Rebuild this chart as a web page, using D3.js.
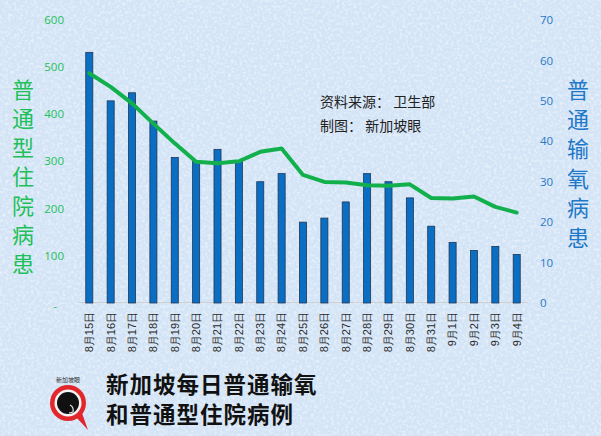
<!DOCTYPE html>
<html><head><meta charset="utf-8">
<script src="https://cdn.jsdelivr.net/npm/d3@7"></script>
<style>
html,body{margin:0;padding:0;background:#d8e7f6;}
svg{display:block;font-family:"Noto Sans CJK SC","Noto Sans",sans-serif;}
</style></head><body>
<svg id="c" width="601" height="436"></svg>
<script>
const categories = ["8月15日","8月16日","8月17日","8月18日","8月19日","8月20日","8月21日","8月22日","8月23日","8月24日","8月25日","8月26日","8月27日","8月28日","8月29日","8月30日","8月31日","9月1日","9月2日","9月3日","9月4日"];
const oxygenCases = [62,50,52,45,36,35,38,35,30,32,20,21,25,32,30,26,19,15,13,14,12];
const generalCases = [487,458,423,380,338,299,296,300,320,327,271,256,255,249,248,251,222,221,225,203,191];
const leftTicks = [0,100,200,300,400,500,600];
const rightTicks = [0,10,20,30,40,50,60,70];
const leftTitle = "普通型住院病患";
const rightTitle = "普通输氧病患";
const notes = ["资料来源：  卫生部","制图：  新加坡眼"];
const titleLines = ["新加坡每日普通输氧","和普通型住院病例"];

const svg = d3.select("#c");
// textured background
const defs = svg.append("defs");
const f = defs.append("filter").attr("id","tex").attr("x",0).attr("y",0).attr("width","100%").attr("height","100%");
f.append("feTurbulence").attr("type","fractalNoise").attr("baseFrequency","0.35").attr("numOctaves",2).attr("seed",3).attr("result","n");
f.append("feColorMatrix").attr("in","n").attr("type","matrix")
 .attr("values","0 0 0 0 1  0 0 0 0 1  0 0 0 0 1  0 0 0 -2.2 1.25");
svg.append("rect").attr("width",601).attr("height",436).attr("fill","#d3e4f6");
svg.append("rect").attr("width",601).attr("height",436).attr("filter","url(#tex)").attr("opacity",0.55);

const x = d3.scaleBand().domain(categories).range([78.6,527.4]).paddingInner(0.67).paddingOuter(0.335);
const yL = d3.scaleLinear().domain([0,600]).range([302.5,20]);
const yR = d3.scaleLinear().domain([0,70]).range([303,20]);

// baseline
svg.append("line").attr("x1",78).attr("x2",528).attr("y1",302.5).attr("y2",302.5).attr("stroke","#d0d0d0").attr("stroke-width",1);

// bars
svg.append("g").selectAll("rect").data(oxygenCases).join("rect")
 .attr("x",(d,i)=>x(categories[i]))
 .attr("width",x.bandwidth())
 .attr("y",d=>yR(d))
 .attr("height",d=>yR(0)-yR(d))
 .attr("fill","#0a6fc2").attr("stroke","#1e3557").attr("stroke-width",0.8);

// line
const line = d3.line().x((d,i)=>x(categories[i])+x.bandwidth()/2).y(d=>yL(d));
svg.append("path").datum(generalCases).attr("d",line).attr("fill","none")
 .attr("stroke","#12b04c").attr("stroke-width",4).attr("stroke-linejoin","round").attr("stroke-linecap","round");

// left axis
const gl = svg.append("g").attr("transform","translate(64,0)")
 .call(d3.axisLeft(yL).tickValues(leftTicks).tickSize(0).tickPadding(0).tickFormat(d=>d===0?"-":d));
gl.select(".domain").remove();
gl.selectAll("text").attr("fill","#1fbf5a").style("font-family","'Open Sans','DejaVu Sans',sans-serif").style("font-size","11.5px");
gl.selectAll(".tick").filter(d=>d===0).select("text").attr("dx","-7").attr("dy","0.6em");

// right axis
const gr = svg.append("g").attr("transform","translate(540,0)")
 .call(d3.axisRight(yR).tickValues(rightTicks).tickSize(0).tickPadding(0));
gr.select(".domain").remove();
gr.selectAll("text").attr("fill","#2a78c6").style("font-family","'Open Sans','DejaVu Sans',sans-serif").style("font-size","11.5px");

// x labels
const gx = svg.append("g").attr("transform","translate(0,312)")
 .call(d3.axisBottom(x).tickSize(0).tickPadding(0));
gx.select(".domain").remove();
gx.selectAll("text").attr("transform","rotate(-90)").attr("text-anchor","end").attr("x",0).attr("y",0).attr("dy","0.35em")
 .attr("fill","#2b2b2b").style("font-size","11px");

// vertical titles
svg.append("g").selectAll("text").data(Array.from(leftTitle)).join("text")
 .attr("x",23).attr("y",(d,i)=>88+i*29).attr("text-anchor","middle").attr("dominant-baseline","central")
 .attr("fill","#1fbf5a").style("font-size","22px").text(d=>d);
svg.append("g").selectAll("text").data(Array.from(rightTitle)).join("text")
 .attr("x",578).attr("y",(d,i)=>88+i*29.6).attr("text-anchor","middle").attr("dominant-baseline","central")
 .attr("fill","#1f78c8").style("font-size","22px").text(d=>d);

// notes
svg.append("g").selectAll("text").data(notes).join("text")
 .attr("x",320).attr("y",(d,i)=>101+i*24).attr("dominant-baseline","central")
 .attr("fill","#222").style("font-size","14px").text(d=>d);

// title
svg.append("g").selectAll("text").data(titleLines).join("text")
 .attr("x",106).attr("y",(d,i)=>383+i*30).attr("dominant-baseline","central")
 .attr("fill","#111").style("font-size","22.5px").style("font-weight","bold").style("letter-spacing","1px").text(d=>d);

// logo
const lg = svg.append("g").attr("transform","translate(68,403)");
lg.append("path").attr("d","M8,14 L20,27 L14,10 Z").attr("fill","#e3262b");
lg.append("circle").attr("r",18).attr("fill","#e3262b");
lg.append("circle").attr("r",13.5).attr("fill","#f4f4f4");
lg.append("circle").attr("r",11).attr("fill","#111");
lg.append("path").attr("d","M2,2 q4,2 3,7 l-4,1").attr("fill","none").attr("stroke","#ddd").attr("stroke-width",1.2);
lg.append("text").attr("x",0).attr("y",-21).attr("text-anchor","middle").attr("fill","#333").style("font-size","6px").text("新加坡眼");
</script>
</body></html>
